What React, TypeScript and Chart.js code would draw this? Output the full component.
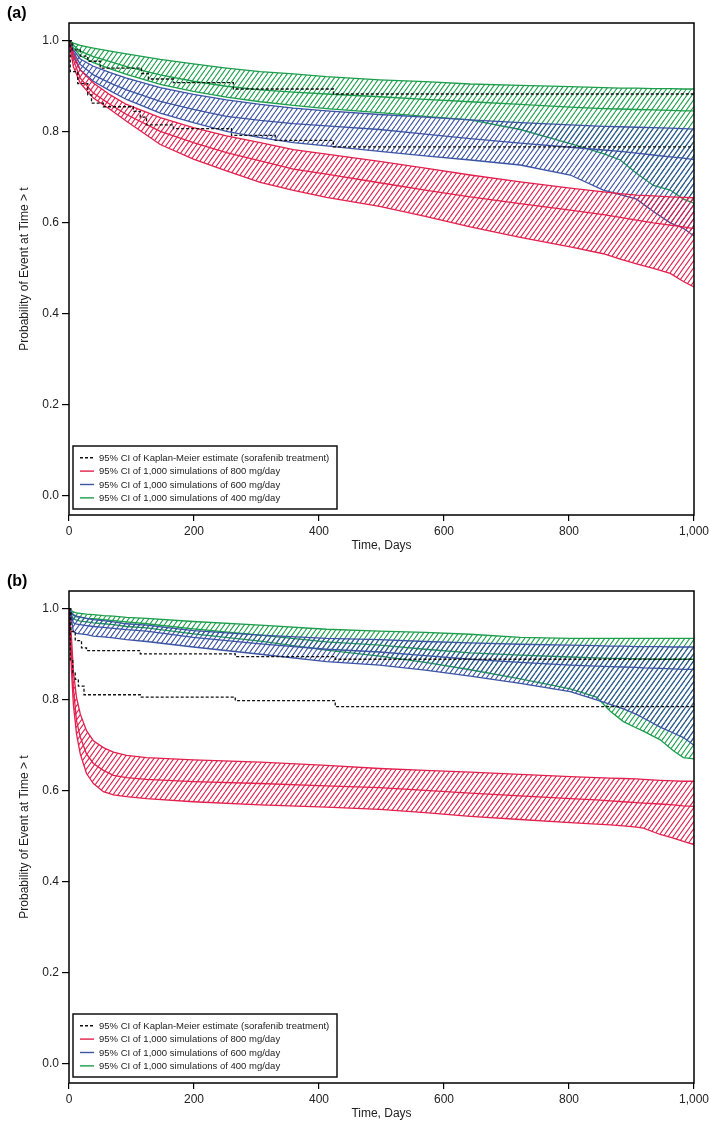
import React, { useEffect, useRef } from "react";
import { Chart, registerables } from "chart.js";
Chart.register(...registerables);

const FONT = 'Arial, "Liberation Sans", Helvetica, sans-serif';

const xTicks = [0, 200, 400, 600, 800, 1000];
const yTicks = [0, 0.2, 0.4, 0.6, 0.8, 1.0];
const xTitle = "Time, Days";
const yTitle = "Probability of Event at Time > t";

const legendLabels = [
  "95% CI of Kaplan-Meier estimate (sorafenib treatment)",
  "95% CI of 1,000 simulations of 800 mg/day",
  "95% CI of 1,000 simulations of 600 mg/day",
  "95% CI of 1,000 simulations of 400 mg/day",
];

// ---------- Panel (a) ----------
const timeA = [0, 7, 18, 39, 66, 92, 146, 199, 252, 306, 359, 412, 497, 570, 642, 722, 802, 855, 882, 908, 935, 962, 983, 1000];
const greenUpperA = [1.0, 0.995, 0.99, 0.984, 0.977, 0.971, 0.959, 0.949, 0.94, 0.932, 0.927, 0.921, 0.914, 0.91, 0.905, 0.902, 0.899, 0.897, 0.896, 0.896, 0.895, 0.895, 0.894, 0.894];
const greenMidA = [1.0, 0.99, 0.977, 0.965, 0.954, 0.943, 0.925, 0.911, 0.9, 0.892, 0.887, 0.883, 0.877, 0.871, 0.866, 0.86, 0.854, 0.851, 0.85, 0.849, 0.848, 0.847, 0.846, 0.846];
const greenLowerA = [1.0, 0.985, 0.967, 0.952, 0.938, 0.926, 0.904, 0.889, 0.876, 0.866, 0.858, 0.851, 0.842, 0.834, 0.826, 0.805, 0.774, 0.752, 0.738, 0.709, 0.682, 0.672, 0.652, 0.643];
const blueUpperA = [1.0, 0.98, 0.96, 0.944, 0.93, 0.918, 0.897, 0.882, 0.87, 0.86, 0.852, 0.846, 0.838, 0.832, 0.826, 0.82, 0.815, 0.812, 0.811, 0.81, 0.809, 0.808, 0.807, 0.806];
const blueMidA = [1.0, 0.975, 0.948, 0.925, 0.907, 0.892, 0.867, 0.849, 0.834, 0.825, 0.818, 0.813, 0.805, 0.795, 0.785, 0.775, 0.766, 0.76, 0.757, 0.753, 0.749, 0.745, 0.742, 0.739];
const blueLowerA = [1.0, 0.965, 0.936, 0.911, 0.89, 0.871, 0.841, 0.82, 0.801, 0.787, 0.776, 0.769, 0.757, 0.747, 0.738, 0.727, 0.705, 0.672, 0.662, 0.652, 0.625, 0.6, 0.588, 0.571];
const redUpperA = [1.0, 0.972, 0.936, 0.907, 0.881, 0.86, 0.831, 0.809, 0.791, 0.776, 0.761, 0.751, 0.735, 0.72, 0.705, 0.69, 0.676, 0.668, 0.664, 0.661, 0.659, 0.657, 0.656, 0.655];
const redMidA = [1.0, 0.958, 0.918, 0.885, 0.86, 0.838, 0.801, 0.776, 0.754, 0.736, 0.718, 0.707, 0.688, 0.672, 0.657, 0.642, 0.628, 0.618, 0.612, 0.606, 0.6, 0.595, 0.591, 0.587];
const redLowerA = [1.0, 0.943, 0.907, 0.874, 0.849, 0.823, 0.772, 0.74, 0.714, 0.689, 0.671, 0.656, 0.636, 0.614, 0.591, 0.568, 0.547, 0.532, 0.52, 0.51, 0.5, 0.489, 0.471, 0.459];
const kmUpperTimeA = [0, 5, 18, 30, 50, 116, 127, 167, 263, 423, 1000];
const kmUpperA = [1.0, 0.98, 0.966, 0.955, 0.94, 0.928, 0.916, 0.908, 0.894, 0.883, 0.883];
const kmLowerTimeA = [0, 2, 14, 30, 36, 55, 103, 114, 124, 167, 260, 330, 423, 1000];
const kmLowerA = [1.0, 0.932, 0.906, 0.881, 0.863, 0.855, 0.845, 0.832, 0.815, 0.807, 0.792, 0.781, 0.767, 0.767];

// ---------- Panel (b) ----------
const timeB = [0, 4, 7, 12, 18, 28, 39, 55, 71, 92, 124, 199, 306, 412, 497, 570, 642, 722, 802, 844, 866, 887, 908, 919, 946, 967, 983, 1000];
const greenUpperB = [1.0, 0.996, 0.993, 0.991, 0.99, 0.988, 0.987, 0.985, 0.984, 0.981, 0.979, 0.972, 0.964, 0.955, 0.951, 0.948, 0.944, 0.937, 0.935, 0.935, 0.935, 0.935, 0.935, 0.935, 0.935, 0.935, 0.935, 0.935];
const greenMidB = [1.0, 0.99, 0.985, 0.982, 0.981, 0.979, 0.978, 0.976, 0.974, 0.971, 0.967, 0.956, 0.942, 0.927, 0.92, 0.911, 0.903, 0.898, 0.894, 0.892, 0.891, 0.891, 0.89, 0.89, 0.889, 0.889, 0.889, 0.889];
const greenLowerB = [1.0, 0.985, 0.978, 0.975, 0.973, 0.971, 0.969, 0.967, 0.965, 0.961, 0.958, 0.945, 0.929, 0.909, 0.896, 0.882, 0.866, 0.846, 0.824, 0.806, 0.775, 0.752, 0.738, 0.731, 0.712, 0.688, 0.673, 0.67];
const blueUpperB = [1.0, 0.992, 0.987, 0.984, 0.982, 0.979, 0.976, 0.974, 0.971, 0.967, 0.964, 0.952, 0.942, 0.935, 0.932, 0.928, 0.925, 0.922, 0.92, 0.919, 0.918, 0.918, 0.917, 0.917, 0.917, 0.916, 0.916, 0.916];
const blueMidB = [1.0, 0.985, 0.969, 0.966, 0.965, 0.963, 0.961, 0.959, 0.957, 0.954, 0.951, 0.937, 0.923, 0.911, 0.905, 0.897, 0.889, 0.882, 0.876, 0.874, 0.873, 0.872, 0.871, 0.87, 0.869, 0.868, 0.867, 0.867];
const blueLowerB = [1.0, 0.975, 0.95, 0.946, 0.945, 0.943, 0.94, 0.938, 0.936, 0.932, 0.928, 0.916, 0.9, 0.884, 0.876, 0.865, 0.852, 0.836, 0.818, 0.8, 0.79, 0.78, 0.768, 0.76, 0.74, 0.727, 0.717, 0.7];
const redUpperB = [1.0, 0.936, 0.863, 0.805, 0.769, 0.732, 0.71, 0.695, 0.685, 0.678, 0.673, 0.668, 0.663, 0.656, 0.649, 0.645, 0.641, 0.636, 0.631, 0.629, 0.628, 0.627, 0.626, 0.625, 0.623, 0.622, 0.621, 0.621];
const redMidB = [1.0, 0.9, 0.827, 0.754, 0.718, 0.681, 0.66, 0.645, 0.634, 0.629, 0.625, 0.62, 0.616, 0.611, 0.607, 0.601, 0.595, 0.589, 0.583, 0.58, 0.578, 0.576, 0.574, 0.573, 0.571, 0.569, 0.567, 0.566];
const redLowerB = [1.0, 0.863, 0.79, 0.725, 0.681, 0.638, 0.616, 0.598, 0.591, 0.587, 0.583, 0.576, 0.569, 0.564, 0.559, 0.552, 0.544, 0.537, 0.53, 0.527, 0.525, 0.523, 0.52, 0.518, 0.504, 0.496, 0.489, 0.482];
const kmUpperTimeB = [0, 3, 10, 20, 28, 114, 266, 426, 1000];
const kmUpperB = [1.0, 0.95, 0.93, 0.914, 0.908, 0.901, 0.895, 0.889, 0.889];
const kmLowerTimeB = [0, 2, 6, 10, 15, 24, 114, 266, 426, 1000];
const kmLowerB = [1.0, 0.888, 0.86, 0.845, 0.83, 0.811, 0.806, 0.798, 0.785, 0.785];

const RED = "rgb(226, 32, 78)";
const BLUE = "rgb(60, 84, 164)";
const GREEN = "rgb(28, 158, 76)";
const KM = "#111111";

function pts(t: number[], v: number[]) {
  return v.map((y, i) => ({ x: t[i], y }));
}

function makeHatch(color: string) {
  const w = 5, h = 7;
  const c = document.createElement("canvas");
  c.width = w;
  c.height = h;
  const g = c.getContext("2d")!;
  g.strokeStyle = color;
  g.lineWidth = 1.1;
  g.beginPath();
  for (const dx of [-w, 0, w]) {
    g.moveTo(dx, h);
    g.lineTo(dx + w, 0);
  }
  g.stroke();
  return g.createPattern(c, "repeat")!;
}

const overlayPlugin = {
  id: "overlay",
  afterDraw(chart: any, _args: any, opts: any) {
    const { ctx, chartArea } = chart;
    const { left, top, right, bottom } = chartArea;
    ctx.save();
    ctx.strokeStyle = "#000";
    ctx.lineWidth = 1.5;
    ctx.strokeRect(left, top, right - left, bottom - top);
    const bx = left + 4, bw = 264, bh = 63;
    const by = bottom - 6 - bh;
    ctx.fillStyle = "#fff";
    ctx.fillRect(bx, by, bw, bh);
    ctx.lineWidth = 1.5;
    ctx.strokeStyle = "#111";
    ctx.strokeRect(bx, by, bw, bh);
    const colors = [KM, RED, BLUE, GREEN];
    ctx.font = `9.5px ${FONT}`;
    ctx.textBaseline = "middle";
    legendLabels.forEach((lab, i) => {
      const yy = by + 11.7 + i * 13.4;
      ctx.beginPath();
      ctx.strokeStyle = colors[i];
      ctx.lineWidth = 1.4;
      ctx.setLineDash(i === 0 ? [3, 2] : []);
      ctx.moveTo(bx + 7, yy);
      ctx.lineTo(bx + 21, yy);
      ctx.stroke();
      ctx.setLineDash([]);
      ctx.fillStyle = "#222";
      ctx.fillText(lab, bx + 26, yy + 0.5);
    });
    ctx.font = `bold 16px ${FONT}`;
    ctx.textBaseline = "alphabetic";
    ctx.fillStyle = "#000";
    ctx.fillText(opts.label, 7, 17.5);
    ctx.restore();
  },
};

type PanelData = {
  time: number[];
  red: number[][];
  blue: number[][];
  green: number[][];
  kmUpper: [number[], number[]];
  kmLower: [number[], number[]];
};

function buildDatasets(d: PanelData) {
  const band = (vals: number[][], color: string) => {
    const hatch = makeHatch(color);
    return vals.map((v, i) => ({
      label: "",
      data: pts(d.time, v),
      borderColor: color,
      borderWidth: 1.3,
      pointRadius: 0,
      tension: 0,
      fill: i === 0 ? "+2" : false,
      backgroundColor: i === 0 ? hatch : "transparent",
    }));
  };
  const km = (t: number[], v: number[]) => ({
    label: "",
    data: pts(t, v),
    borderColor: KM,
    borderWidth: 1.3,
    borderDash: [3, 2],
    pointRadius: 0,
    stepped: true,
    fill: false,
  });
  return [
    km(d.kmUpper[0], d.kmUpper[1]),
    km(d.kmLower[0], d.kmLower[1]),
    ...band(d.red, RED),
    ...band(d.blue, BLUE),
    ...band(d.green, GREEN),
  ];
}

function Panel({ top, label, data }: { top: number; label: string; data: PanelData }) {
  const ref = useRef<HTMLCanvasElement | null>(null);
  useEffect(() => {
    if (!ref.current) return;
    const chart = new Chart(ref.current, {
      type: "line",
      data: { datasets: buildDatasets(data) as any },
      plugins: [overlayPlugin as any],
      options: {
        responsive: false,
        animation: false,
        events: [],
        layout: { padding: { top: 23, right: 15, left: 0, bottom: 0 } },
        plugins: {
          legend: { display: false },
          tooltip: { enabled: false },
          overlay: { label },
        } as any,
        scales: {
          x: {
            type: "linear",
            min: 0,
            max: 1000,
            afterBuildTicks: (s: any) => {
              s.ticks = xTicks.map((v) => ({ value: v }));
            },
            afterFit: (s: any) => {
              s.height = 53;
              s.paddingLeft = 0;
              s.paddingRight = 0;
            },
            grid: { drawOnChartArea: false, drawTicks: true, tickLength: 6, color: "#000", lineWidth: 1.2 },
            border: { display: false },
            ticks: {
              color: "#222",
              font: { family: FONT, size: 12 },
              padding: 3,
              maxRotation: 0,
              autoSkip: false,
              callback: (v: any) => Number(v).toLocaleString("en-US"),
            },
            title: {
              display: true,
              text: xTitle,
              color: "#222",
              font: { family: FONT, size: 12 },
              padding: { top: 0, bottom: 14.8 },
            },
          },
          y: {
            type: "linear",
            min: -0.042,
            max: 1.039,
            afterBuildTicks: (s: any) => {
              s.ticks = yTicks.map((v) => ({ value: v }));
            },
            afterFit: (s: any) => {
              s.width = 69;
              s.paddingTop = 0;
              s.paddingBottom = 0;
            },
            grid: { drawOnChartArea: false, drawTicks: true, tickLength: 7, color: "#000", lineWidth: 1.2 },
            border: { display: false },
            ticks: {
              color: "#222",
              font: { family: FONT, size: 12 },
              padding: 3,
              autoSkip: false,
              callback: (v: any) => Number(v).toFixed(1),
            },
            title: {
              display: true,
              text: yTitle,
              color: "#222",
              font: { family: FONT, size: 12 },
              padding: { top: 17.5, bottom: 0 },
            },
          },
        },
      },
    });
    return () => chart.destroy();
  }, []);
  return (
    <canvas
      ref={ref}
      width={709}
      height={568}
      style={{ position: "absolute", left: 0, top, display: "block", width: 709, height: 568 }}
    />
  );
}

const panelA: PanelData = {
  time: timeA,
  red: [redUpperA, redMidA, redLowerA],
  blue: [blueUpperA, blueMidA, blueLowerA],
  green: [greenUpperA, greenMidA, greenLowerA],
  kmUpper: [kmUpperTimeA, kmUpperA],
  kmLower: [kmLowerTimeA, kmLowerA],
};

const panelB: PanelData = {
  time: timeB,
  red: [redUpperB, redMidB, redLowerB],
  blue: [blueUpperB, blueMidB, blueLowerB],
  green: [greenUpperB, greenMidB, greenLowerB],
  kmUpper: [kmUpperTimeB, kmUpperB],
  kmLower: [kmLowerTimeB, kmLowerB],
};

export default function App() {
  return (
    <div
      style={{
        position: "absolute",
        left: 0,
        top: 0,
        width: 709,
        height: 1127,
        overflow: "hidden",
        background: "#fff",
      }}
    >
      <Panel top={0} label="(a)" data={panelA} />
      <Panel top={568} label="(b)" data={panelB} />
    </div>
  );
}
